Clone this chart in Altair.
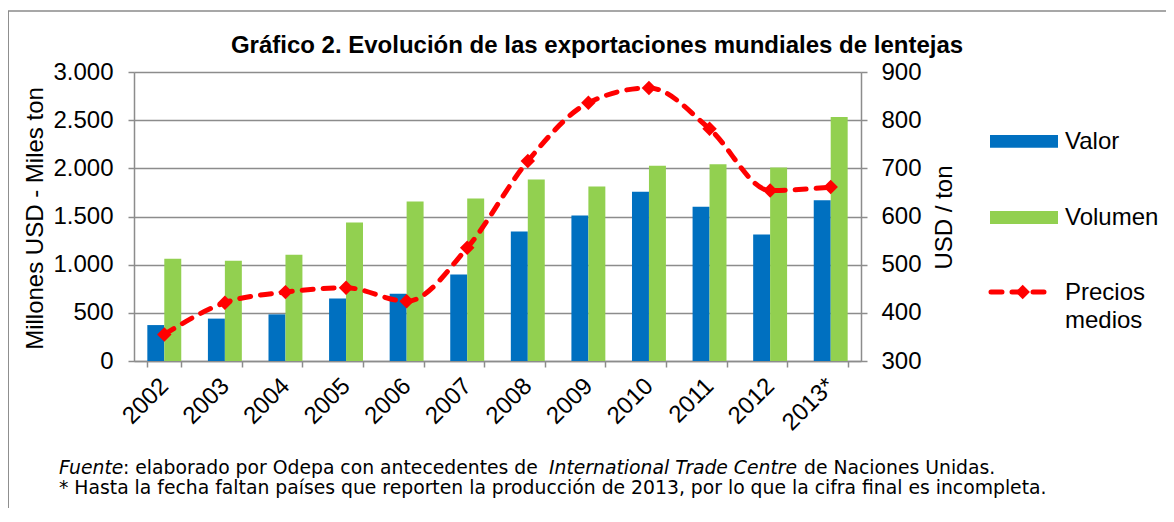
import altair as alt
import pandas as pd

# ---- data ----
years = ["2002", "2003", "2004", "2005", "2006", "2007", "2008", "2009", "2010", "2011", "2012", "2013*"]
valor = [373, 440, 484, 650, 699, 899, 1345, 1510, 1756, 1600, 1313, 1669]
volumen = [1061, 1041, 1103, 1438, 1655, 1687, 1884, 1811, 2026, 2042, 2008, 2533]
precios = [355, 421, 443, 452, 424, 535, 715, 836, 867, 782, 654, 661]
series = ["Valor", "Volumen"]
left_ticks = [0, 500, 1000, 1500, 2000, 2500, 3000]
right_ticks = [300, 400, 500, 600, 700, 800, 900]

title_text = "Gráfico 2. Evolución de las exportaciones mundiales de lentejas"
note1_parts = ["Fuente", ": elaborado por Odepa con antecedentes de", "International Trade Centre", "de Naciones Unidas."]
note2 = "* Hasta la fecha faltan países que reporten la producción de 2013, por lo que la cifra final es incompleta."

# ---- layout ----
W, H = 727, 289
PAD_L, PAD_T = 126, 64
TOTAL_W, TOTAL_H = 1158, 500
FONT = "Liberation Sans"
NOTE_FONT = "DejaVu Sans"
GRID = "#8c8c8c"
BLUE, GREEN, RED = "#0070C0", "#92D050", "#FF0000"
FS = 24

df_bars = pd.DataFrame({
    "year": years * 2,
    "serie": [series[0]] * len(years) + [series[1]] * len(years),
    "value": valor + volumen,
})
df_line = pd.DataFrame({"year": years, "precio": precios})
one = pd.DataFrame({"k": [0]})

x_scale = alt.Scale(paddingInner=0.44, paddingOuter=0.22)
x_axis = alt.Axis(title=None, labelAngle=-45, labelAlign="right", labelBaseline="middle",
                  labelFontSize=FS, labelColor="black", labelPadding=15,
                  tickBand="extent", tickSize=6, tickColor=GRID, domainColor=GRID, domainWidth=1.5,
                  tickWidth=1.5, labelFont=FONT, labelOverlap=False, labelBound=False)

bars = alt.Chart(df_bars).mark_bar().encode(
    x=alt.X("year:N", sort=years, scale=x_scale, axis=x_axis),
    xOffset=alt.XOffset("serie:N", sort=series, scale=alt.Scale(paddingInner=0, paddingOuter=0)),
    y=alt.Y("value:Q", scale=alt.Scale(domain=[0, 3000], nice=False),
            axis=alt.Axis(values=left_ticks, labelExpr="replace(format(datum.value, ','), ',', '.')",
                          title="Millones USD - Miles ton", titleFontSize=FS, titleFontWeight="normal",
                          titleColor="black", titleAngle=270, titleX=-99, titleY=146,
                          titleAlign="center", titleBaseline="middle", titleFont=FONT,
                          labelFontSize=FS, labelColor="black", labelPadding=15, labelFont=FONT,
                          tickSize=6, tickColor=GRID, tickWidth=1.5, domainColor=GRID, domainWidth=1.5,
                          grid=True, gridColor=GRID, gridWidth=1.5)),
    color=alt.Color("serie:N", scale=alt.Scale(domain=series, range=[BLUE, GREEN]), legend=None),
)

line = alt.Chart(df_line).mark_line(
    color=RED, strokeWidth=5, strokeDash=[11, 10], strokeCap="round", interpolate="monotone",
    point=alt.OverlayMarkDef(shape="diamond", filled=True, size=210, color=RED, opacity=1),
).encode(
    x=alt.X("year:N", sort=years, scale=x_scale, axis=x_axis),
    y=alt.Y("precio:Q", scale=alt.Scale(domain=[300, 900], nice=False),
            axis=alt.Axis(orient="right", values=right_ticks, title="USD / ton", titleFontSize=FS,
                          titleFontWeight="normal", titleColor="black", titleAngle=270, titleX=83,
                          titleY=145, titleAlign="center", titleBaseline="middle", titleFont=FONT,
                          labelFontSize=FS, labelColor="black", labelPadding=14, labelFont=FONT,
                          tickSize=6, tickColor=GRID, tickWidth=1.5, domainColor=GRID, domainWidth=1.5,
                          grid=False)),
)

main = alt.layer(bars, line).resolve_scale(y="independent")

# ---- decorations: frame, title, legend, notes ----
frame = alt.Chart(one).mark_rect(filled=False, stroke="#8a8a8a", strokeWidth=1.5, fill=None).encode(
    x=alt.value(-125.8), x2=alt.value(1400), y=alt.value(-61), y2=alt.value(700))

title = alt.Chart(one).mark_text(text=title_text, font=FONT, fontSize=24, fontWeight="bold",
                                  align="center", baseline="alphabetic", color="black").encode(
    x=alt.value(463), y=alt.value(-19.5))

leg_blue = alt.Chart(one).mark_rect(color=BLUE).encode(
    x=alt.value(856), x2=alt.value(924), y=alt.value(63), y2=alt.value(75.7))
leg_green = alt.Chart(one).mark_rect(color=GREEN).encode(
    x=alt.value(856), x2=alt.value(924), y=alt.value(139), y2=alt.value(152))
leg_line = alt.Chart(one).mark_rule(color=RED, strokeWidth=5, strokeDash=[11, 10], strokeCap="round").encode(
    x=alt.value(857), x2=alt.value(914), y=alt.value(220))
leg_pt = alt.Chart(one).mark_point(shape="diamond", filled=True, size=210, color=RED, opacity=1).encode(
    x=alt.value(888.7), y=alt.value(220))

def ltext(t, x, y, fs=FS, style="normal"):
    return alt.Chart(one).mark_text(text=t, font=FONT, fontSize=fs, fontStyle=style, align="left",
                                    baseline="middle", color="black").encode(x=alt.value(x), y=alt.value(y))

leg_texts = [ltext("Valor", 931, 70), ltext("Volumen", 931, 146),
             ltext("Precios", 931, 221), ltext("medios", 931, 249)]

NFS = 18.8
def ntext(t, x, y, style="normal"):
    return alt.Chart(one).mark_text(text=t, font=NOTE_FONT, fontSize=NFS, fontStyle=style, align="left",
                                    baseline="alphabetic", color="black").encode(x=alt.value(x), y=alt.value(y))

notes = [
    ntext(note1_parts[0], 59 - 134, 402, "italic"),
    ntext(note1_parts[1], 123 - 134, 402),
    ntext(note1_parts[2], 549 - 134, 402, "italic"),
    ntext(note1_parts[3], 804 - 134, 402),
    ntext(note2, 59 - 134, 421.5),
]

chart = alt.layer(frame, main, title, leg_blue, leg_green, leg_line, leg_pt, *leg_texts, *notes).properties(
    width=W, height=H,
    autosize=alt.AutoSizeParams(type="none"),
    padding={"left": PAD_L, "top": PAD_T, "right": TOTAL_W - PAD_L - W, "bottom": TOTAL_H - PAD_T - H},
).configure_view(stroke=None).configure(font=FONT)

chart.save("out.html", embed_options={"renderer": "svg", "actions": False})
